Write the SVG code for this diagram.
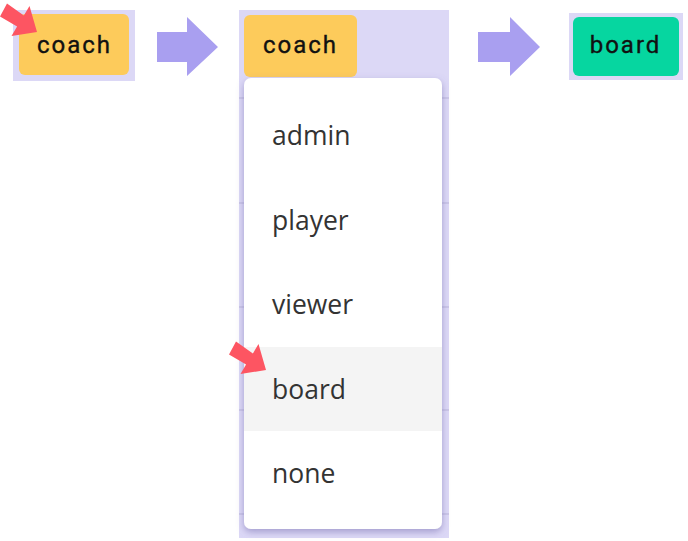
<svg xmlns="http://www.w3.org/2000/svg" width="688" height="541" viewBox="0 0 688 541">
<defs>
<style>
.frame{fill:#dcd8f6}
.chip{fill:#fdcb5b}
.chiptxt{font-family:Roboto,"Liberation Sans",sans-serif;font-size:24px;font-weight:400;letter-spacing:2px;fill:#111;stroke:#111;stroke-width:0.35px;text-anchor:middle}
.item{font-family:"Open Sans","Noto Sans","Liberation Sans",sans-serif;font-size:26.5px;fill:#333}
.bigarrow{fill:#a99ff0}
.pointer{fill:#fd5562}
.grid{stroke:#b9b4d8;stroke-width:1}
</style>
<filter id="shadow" x="-10%" y="-5%" width="120%" height="112%">
<feDropShadow dx="0" dy="3" stdDeviation="3.5" flood-color="#6a62a8" flood-opacity="0.5"/>
</filter>
<polygon id="ptr" points="37,32 29.5,6 23.9,15.4 7,3.5 0,16.5 17.1,26.6 11.5,36"/>
</defs>

<g id="node-coach-start">
<rect class="frame" x="13" y="10" width="122" height="71"/>
<rect class="chip" x="19" y="14" width="110" height="61" rx="6"/>
<text class="chiptxt" x="74.5" y="53">coach</text>
</g>

<g id="node-dropdown">
<rect class="frame" x="239" y="10" width="210" height="528"/>
<line class="grid" x1="239" y1="98" x2="244" y2="98"/>
<line class="grid" x1="441" y1="98" x2="449" y2="98"/>
<line class="grid" x1="239" y1="203" x2="244" y2="203"/>
<line class="grid" x1="441" y1="203" x2="449" y2="203"/>
<line class="grid" x1="239" y1="307" x2="244" y2="307"/>
<line class="grid" x1="441" y1="307" x2="449" y2="307"/>
<line class="grid" x1="239" y1="410" x2="244" y2="410"/>
<line class="grid" x1="441" y1="410" x2="449" y2="410"/>
<line class="grid" x1="239" y1="514" x2="244" y2="514"/>
<line class="grid" x1="441" y1="514" x2="449" y2="514"/>
<rect class="chip" x="244" y="15" width="113" height="62" rx="6"/>
<text class="chiptxt" x="300.5" y="53">coach</text>
<rect x="244" y="78" width="198" height="451" rx="7" fill="#ffffff" filter="url(#shadow)"/>
<rect x="244" y="347" width="198" height="84" fill="#f4f4f4"/>
<text class="item" x="272" y="145">admin</text>
<text class="item" x="272" y="229.5">player</text>
<text class="item" x="272" y="314">viewer</text>
<text class="item" x="272" y="398.5">board</text>
<text class="item" x="272" y="483">none</text>
</g>

<g id="node-board">
<rect class="frame" x="569" y="13" width="114" height="67"/>
<rect x="573" y="17" width="106" height="59" rx="6" fill="#06d6a0"/>
<text class="chiptxt" x="625.5" y="53">board</text>
</g>

<g id="connectors">
<polygon class="bigarrow" points="157,32 187,32 187,17 218,47 187,76 187,62 157,62"/>
<polygon class="bigarrow" points="478,32 510,32 510,17 540,47 510,76 510,62 478,62"/>
<use href="#ptr" class="pointer"/>
<use href="#ptr" class="pointer" transform="translate(229,338)"/>
</g>
</svg>
